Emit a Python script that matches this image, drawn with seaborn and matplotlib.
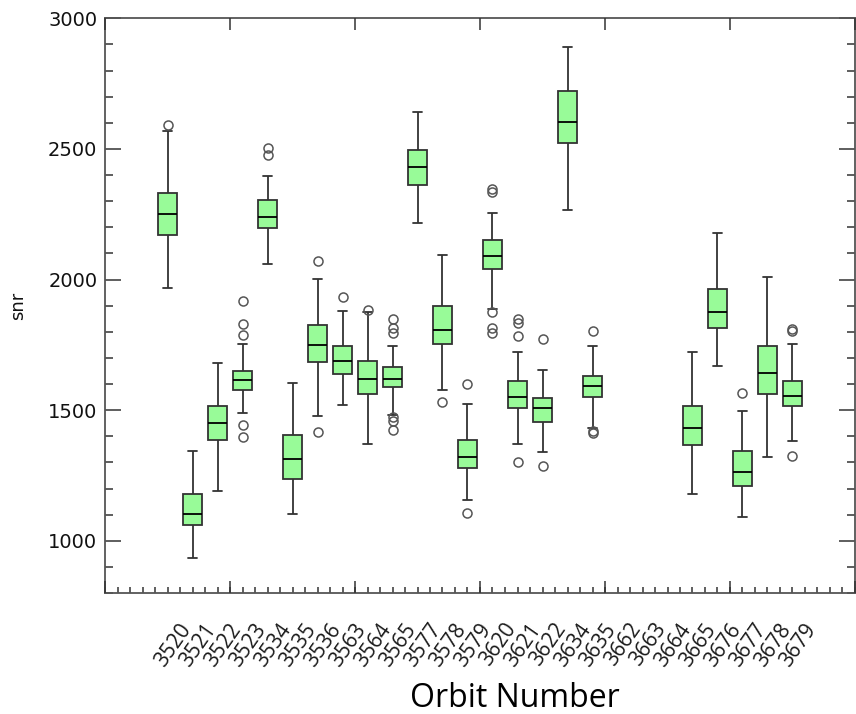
import numpy as np
import pandas as pd
import matplotlib
matplotlib.use("Agg")
import matplotlib.pyplot as plt
import matplotlib.transforms as mtransforms
from matplotlib.ticker import MultipleLocator, FixedLocator, NullFormatter
import seaborn as sns

# ---- data (box summaries per orbit) ----
orbits = ["3520", "3521", "3522", "3523", "3534", "3535", "3536", "3563",
          "3564", "3565", "3577", "3578", "3579", "3620", "3621", "3622",
          "3634", "3635", "3662", "3663", "3664", "3665", "3676", "3677",
          "3678", "3679"]
whisker_low = [1966, 934, 1190, 1488, 2060, 1104, 1479, 1519,
               1371, 1482, 2217, 1579, 1155, 1889, 1371, 1339,
               2266, 1430, None, None, None, 1178, 1669, 1090,
               1320, 1382]
q1 = [2170, 1062, 1384, 1577, 2198, 1238, 1684, 1638,
      1560, 1590, 2363, 1755, 1277, 2041, 1508, 1456,
      2521, 1550, None, None, None, 1367, 1814, 1210,
      1560, 1516]
median = [2249, 1104, 1449, 1617, 2238, 1312, 1748, 1689,
          1621, 1618, 2429, 1806, 1320, 2090, 1551, 1507,
          2602, 1592, None, None, None, 1433, 1876, 1265,
          1641, 1556]
q3 = [2331, 1178, 1515, 1650, 2305, 1405, 1825, 1746,
      1688, 1664, 2496, 1899, 1386, 2150, 1613, 1547,
      2722, 1632, None, None, None, 1516, 1962, 1343,
      1746, 1613]
whisker_high = [2568, 1343, 1680, 1754, 2397, 1602, 2001, 1879,
                1876, 1746, 2641, 2092, 1524, 2255, 1723, 1653,
                2890, 1746, None, None, None, 1723, 2178, 1496,
                2010, 1755]
outliers = [[2590], [], [], [1396, 1445, 1787, 1829, 1918], [2476, 2504], [],
            [1415, 2070], [1933], [1884], [1423, 1459, 1474, 1797, 1816, 1848],
            [], [1533], [1108, 1599], [1797, 1816, 1876, 2336, 2348],
            [1301, 1783, 1832, 1847], [1286, 1771], [], [1413, 1422, 1802],
            [], [], [], [], [], [1565], [], [1324, 1802, 1810]]

# Expand each five-number summary into a sample whose quartiles/whiskers
# reproduce the read values exactly (runs of repeated quartile values).
rows = []
for orb, lo, a, m, b, hi, fl in zip(orbits, whisker_low, q1, median, q3,
                                    whisker_high, outliers):
    if m is None:
        continue
    low_fl = [v for v in fl if v < lo]
    high_fl = [v for v in fl if v > hi]
    sample = low_fl + [lo] + [a] * 20 + [m] * 20 + [b] * 20 + [hi] + high_fl
    rows += [(orb, float(v)) for v in sample]
df = pd.DataFrame(rows, columns=["orbit", "snr"])

sns.set_theme(style="white")
plt.rcParams["font.family"] = ["DejaVu Sans"]

W, H = 856, 714
fig = plt.figure(figsize=(W / 100, H / 100), dpi=100)
ax_left, ax_right, ax_top, ax_bot = 105, 855, 18.3, 593
ax = fig.add_axes([ax_left / W, 1 - ax_bot / H,
                   (ax_right - ax_left) / W, (ax_bot - ax_top) / H])

edge = "#333333"
sns.boxplot(data=df, x="orbit", y="snr", order=orbits, ax=ax,
            color="#98FB98", saturation=1, width=0.76,
            linecolor=edge, linewidth=1.3, fliersize=6.5,
            flierprops=dict(marker="o", markerfacecolor="none",
                            markeredgecolor="#555555", markeredgewidth=1.1),
            medianprops=dict(color="black", linewidth=1.3))

# ---- axes ----
ax.set_xlim(-2.5, 27.5)
ax.set_ylim(800, 3000)
ax.yaxis.set_major_locator(MultipleLocator(500))
ax.yaxis.set_minor_locator(MultipleLocator(100))
ax.tick_params(axis="y", which="major", direction="in", length=11.5,
               width=1.1, color=edge, left=True, right=True, pad=5.5,
               labelsize=14, labelcolor="#111111")
ax.tick_params(axis="y", which="minor", direction="in", length=5.8,
               width=1.1, color=edge, left=True, right=True)

ax.set_xticks(range(len(orbits)))
ax.set_xticklabels(orbits)
ax.xaxis.remove_overlapping_locs = False
ax.xaxis.set_minor_locator(MultipleLocator(0.5))
ax.tick_params(axis="x", which="major", length=0, pad=19)
ax.tick_params(axis="x", which="minor", direction="in", length=4.3,
               width=1.1, color=edge, bottom=True, top=True)

# long x ticks (every 5 minor steps) on bottom and top
ax2 = ax.twiny()
ax2.set_xlim(ax.get_xlim())
ax2.xaxis.set_major_locator(FixedLocator(np.arange(-2.5, 28, 5)))
ax2.xaxis.set_major_formatter(NullFormatter())
ax2.tick_params(axis="x", which="major", direction="in", length=8.6,
                width=1.1, color=edge, bottom=True, top=True,
                labelbottom=False, labeltop=False)
for s in ax2.spines.values():
    s.set_visible(False)

for s in ax.spines.values():
    s.set_visible(True)
    s.set_color("#555555")
    s.set_linewidth(1.3)

ax.set_ylabel("snr", fontsize=13, color="#111111")
ax.yaxis.set_label_coords(-0.104, 0.5)
ax.set_xlabel("Orbit Number", fontsize=23, family=["Open Sans", "DejaVu Sans"],
              color="black")
ax.xaxis.set_label_coords((515 - ax_left) / (ax_right - ax_left),
                          -(682 - ax_bot) / (ax_bot - ax_top))

offset = mtransforms.ScaledTranslation(6 / 100, 0, fig.dpi_scale_trans)
for lab in ax.get_xticklabels():
    lab.set_fontsize(15)
    lab.set_family(["Open Sans", "DejaVu Sans"])
    lab.set_rotation(55)
    lab.set_ha("center")
    lab.set_color("#1a1a1a")
    lab.set_transform(lab.get_transform() + offset)

fig.savefig("out.png", dpi=100)
